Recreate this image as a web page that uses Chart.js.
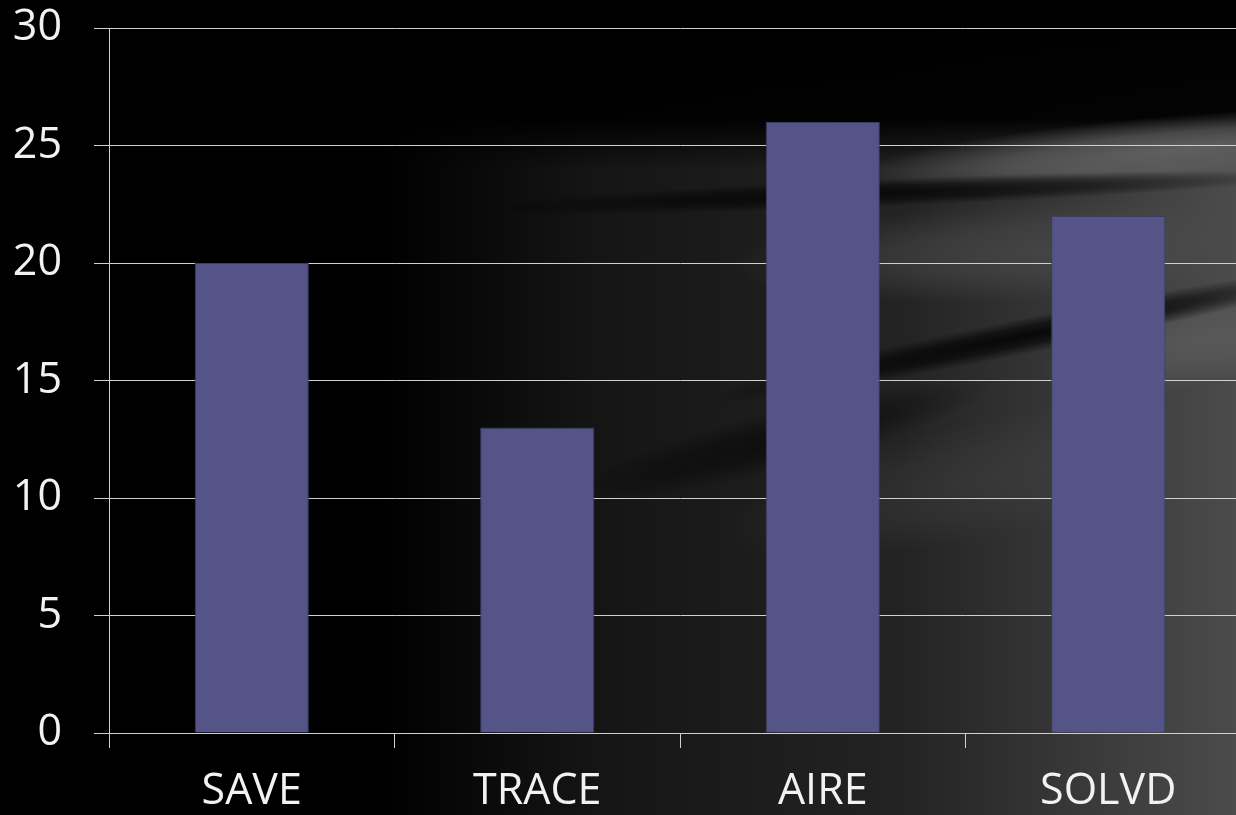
<!DOCTYPE html>
<html>
<head>
<meta charset="utf-8">
<script src="https://cdn.jsdelivr.net/npm/chart.js@4"></script>
<style>
  html, body { margin: 0; padding: 0; background: #000; overflow: hidden; }
  #wrap { position: absolute; left: 0; top: 0; width: 1251px; height: 815px; }
</style>
</head>
<body>
<div id="wrap"><canvas id="myChart"></canvas></div>
<script>
"use strict"
const studies = ['SAVE', 'TRACE', 'AIRE', 'SOLVD'];
const values = [20, 13, 26, 22];
const yTicks = [0, 5, 10, 15, 20, 25, 30];

// weiche Ellipse (hell oder dunkel)
function blob(ctx, cx, cy, rx, ry, ang, rgb, a) {
    ctx.save();
    ctx.translate(cx, cy);
    ctx.rotate(ang);
    ctx.scale(rx, ry);
    const rg = ctx.createRadialGradient(0, 0, 0, 0, 0, 1);
    rg.addColorStop(0, `rgba(${rgb},${a})`);
    rg.addColorStop(0.5, `rgba(${rgb},${a * 0.7})`);
    rg.addColorStop(1, `rgba(${rgb},0)`);
    ctx.fillStyle = rg;
    ctx.beginPath();
    ctx.arc(0, 0, 1, 0, Math.PI * 2);
    ctx.fill();
    ctx.restore();
}

// dunkler Hintergrund mit hellen Schlieren rechts
const backdrop = {
    id: 'backdrop',
    beforeDraw(chart) {
        const ctx = chart.ctx;
        const w = chart.width, h = chart.height;
        ctx.save();
        ctx.fillStyle = '#000';
        ctx.fillRect(0, 0, w, h);
        let g = ctx.createLinearGradient(380, 0, 1250, 0);
        g.addColorStop(0, '#000');
        g.addColorStop(0.25, '#151515');
        g.addColorStop(0.6, '#232323');
        g.addColorStop(1, '#4d4d4d');
        ctx.fillStyle = g;
        ctx.fillRect(0, 0, w, h);
        // oben schwarz
        let v = ctx.createLinearGradient(0, 0, 0, 170);
        v.addColorStop(0, 'rgba(0,0,0,1)');
        v.addColorStop(0.7, 'rgba(0,0,0,0.95)');
        v.addColorStop(1, 'rgba(0,0,0,0)');
        ctx.fillStyle = v;
        ctx.fillRect(0, 0, w, 170);
        // helle Bänder
        blob(ctx, 1180, 150, 330, 35, -0.08, '105,105,105', 0.85);
        blob(ctx, 1050, 250, 320, 50, -0.05, '75,75,75', 0.7);
        blob(ctx, 1200, 340, 160, 45, -0.2, '95,95,95', 0.7);
        blob(ctx, 980, 480, 260, 60, -0.2, '70,70,70', 0.4);
        // dunkle Bänder
        blob(ctx, 880, 193, 420, 14, -0.04, '0,0,0', 0.75);
        blob(ctx, 1030, 335, 330, 18, -0.2, '0,0,0', 0.85);
        blob(ctx, 780, 440, 220, 30, -0.25, '0,0,0', 0.5);
        ctx.restore();
    }
};

const labelColor = '#f2f2f2';
const gridColor = '#d0d0d0';

new Chart(document.getElementById('myChart'), {
    type: 'bar',
    data: {
        labels: studies,
        datasets: [{
            data: values,
            backgroundColor: '#545488',
            borderColor: '#3c3c60',
            borderWidth: 1,
            barPercentage: 0.4,
            categoryPercentage: 1.0
        }]
    },
    plugins: [backdrop],
    options: {
        responsive: true,
        maintainAspectRatio: false,
        animation: false,
        layout: { padding: { top: 28, left: 0, right: 0, bottom: 0 } },
        plugins: { legend: { display: false }, tooltip: { enabled: false } },
        scales: {
            x: {
                offset: true,
                grid: { offset: true, drawOnChartArea: false, color: gridColor, tickLength: 15, lineWidth: 1 },
                border: { color: gridColor, width: 1 },
                ticks: { color: labelColor, font: { family: 'Open Sans', size: 43 }, padding: 18, maxRotation: 0 },
                afterFit(scale) {
                    scale.height = 82;
                    scale.paddingLeft = 0;
                    scale.paddingRight = 0;
                }
            },
            y: {
                min: 0,
                max: 30,
                afterBuildTicks(scale) { scale.ticks = yTicks.map(v => ({ value: v })); },
                grid: { color: gridColor, tickLength: 15, lineWidth: 1 },
                border: { color: gridColor, width: 1 },
                ticks: { color: labelColor, font: { family: 'Open Sans', size: 43 }, padding: 32 },
                afterFit(scale) {
                    scale.width = 109;
                    scale.paddingTop = 0;
                    scale.paddingBottom = 0;
                }
            }
        }
    }
});
</script>
</body>
</html>
